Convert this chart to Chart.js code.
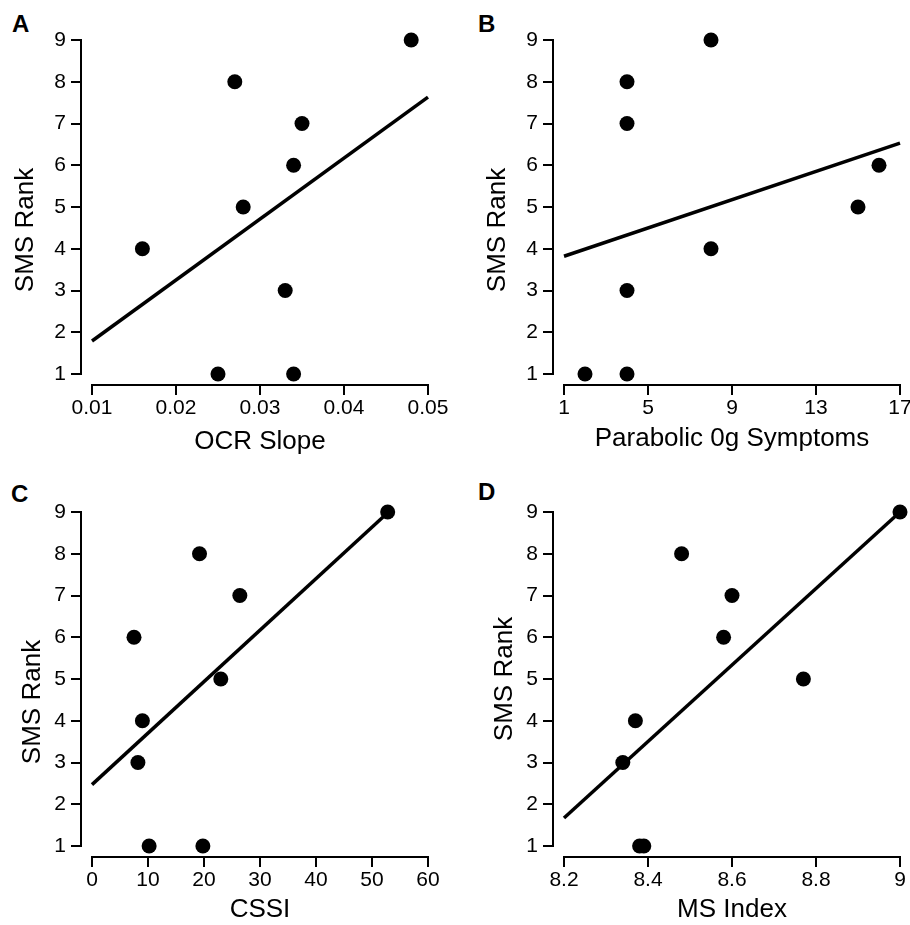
<!DOCTYPE html>
<html>
<head>
<meta charset="utf-8">
<script src="https://cdn.jsdelivr.net/npm/chart.js@4.4.1/dist/chart.umd.min.js"></script>
<style>
html, body { margin: 0; padding: 0; background: #fff; }
body { width: 910px; height: 925px; overflow: hidden; position: relative; font-family: "Liberation Sans", Arial, Helvetica, sans-serif; }
canvas { position: absolute; }
.lbl { position: absolute; font-weight: bold; font-size: 24px; line-height: 24px; color: #000; }
</style>
</head>
<body>
<div class="lbl" style="left:12px;top:12px">A</div>
<div class="lbl" style="left:478px;top:12px">B</div>
<div class="lbl" style="left:11px;top:482px">C</div>
<div class="lbl" style="left:478px;top:480px">D</div>
<canvas id="cA" width="472" height="460" style="left:0px;top:0px"></canvas>
<canvas id="cB" width="438" height="460" style="left:472px;top:0px"></canvas>
<canvas id="cC" width="472" height="453" style="left:0px;top:472px"></canvas>
<canvas id="cD" width="438" height="453" style="left:472px;top:472px"></canvas>
<script>
// ---------------- data ----------------
const smsRank = [9, 8, 7, 6, 5, 4, 3, 1, 1];

const ocrSlope    = [0.048, 0.027, 0.035, 0.034, 0.028, 0.016, 0.033, 0.025, 0.034];
const parabolic0g = [8, 4, 4, 16, 15, 8, 4, 2, 4];
const cssi        = [52.8, 19.2, 26.4, 7.5, 23.0, 9.0, 8.2, 10.2, 19.8];
const msIndex     = [9.0, 8.48, 8.60, 8.58, 8.77, 8.37, 8.34, 8.38, 8.39];

// regression lines (end points)
const fitOcrX = [0.01, 0.05],  fitOcrY = [1.79, 7.63];
const fitParX = [1, 17],       fitParY = [3.82, 6.53];
const fitCssiX = [0, 52.8],    fitCssiY = [2.47, 8.98];
const fitMsX = [8.2, 9.0],     fitMsY = [1.67, 9.0];

// tick values and labels
const yTicks = [1, 2, 3, 4, 5, 6, 7, 8, 9];
const yTickLabels = ['1', '2', '3', '4', '5', '6', '7', '8', '9'];
const ocrTicks = [0.01, 0.02, 0.03, 0.04, 0.05];
const ocrTickLabels = ['0.01', '0.02', '0.03', '0.04', '0.05'];
const parTicks = [1, 5, 9, 13, 17];
const parTickLabels = ['1', '5', '9', '13', '17'];
const cssiTicks = [0, 10, 20, 30, 40, 50, 60];
const cssiTickLabels = ['0', '10', '20', '30', '40', '50', '60'];
const msTicks = [8.2, 8.4, 8.6, 8.8, 9];
const msTickLabels = ['8.2', '8.4', '8.6', '8.8', '9'];

// ---------------- drawing ----------------
const FONT = '"Liberation Sans", Arial, Helvetica, sans-serif';
const PLOT_W = 336, PLOT_H = 334, GAP = 11;

const titleShift = {
  id: 'titleShift',
  afterLayout(chart, args, opts) {
    const s = chart.scales.y;
    if (opts && opts.shift) s.bottom += 2 * opts.shift;
  }
};

function setTicks(arr) { return s => { s.ticks = arr.map(v => ({ value: v })); }; }
function labeller(arr, labels) {
  return v => { const i = arr.findIndex(t => Math.abs(t - v) < 1e-9); return i < 0 ? '' : labels[i]; };
}

function panel(id, xs, fitX, fitY, xTicks, xLabels, xTitle, opt) {
  const xMin = xTicks[0], xMax = xTicks[xTicks.length - 1];
  const yMin = yTicks[0], yMax = yTicks[yTicks.length - 1];
  const yAxisAtX = xMin - GAP / PLOT_W * (xMax - xMin);
  const xAxisAtY = yMin - GAP / PLOT_H * (yMax - yMin);
  new Chart(document.getElementById(id), {
    type: 'scatter',
    data: {
      datasets: [
        { data: xs.map((x, i) => ({ x: x, y: smsRank[i] })), pointRadius: 7.5, pointBackgroundColor: '#000',
          pointBorderWidth: 0, borderColor: '#000', clip: false, order: 1 },
        { data: fitX.map((x, i) => ({ x: x, y: fitY[i] })), showLine: true, borderColor: '#000', borderWidth: 3.5,
          pointRadius: 0, clip: false, order: 2 }
      ]
    },
    options: {
      responsive: false, animation: false, events: [],
      layout: { padding: { top: 40, right: opt.padRight, bottom: 0, left: 0 } },
      plugins: { legend: { display: false }, tooltip: { enabled: false }, titleShift: { shift: opt.yTitleShift } },
      scales: {
        x: {
          type: 'linear', position: 'bottom', min: xMin, max: xMax,
          afterBuildTicks: setTicks(xTicks),
          afterFit: s => { s.height = opt.xAxisH; s.paddingLeft = 0; s.paddingRight = 0; },
          grid: { display: false, drawTicks: false }, border: { display: false },
          ticks: { callback: labeller(xTicks, xLabels), color: '#000', font: { family: FONT, size: 21 },
                   padding: 22, maxRotation: 0, autoSkip: false },
          title: { display: true, text: xTitle, color: '#000', font: { family: FONT, size: 26 },
                   padding: { top: 0, bottom: opt.xTitlePad } }
        },
        y: {
          type: 'linear', position: 'left', min: yMin, max: yMax,
          afterBuildTicks: setTicks(yTicks),
          afterFit: s => { s.width = 92; s.paddingTop = 0; s.paddingBottom = 0; },
          grid: { display: false, drawTicks: false }, border: { display: false },
          ticks: { callback: labeller(yTicks, yTickLabels), color: '#000', font: { family: FONT, size: 21 },
                   padding: 26, autoSkip: false },
          title: { display: true, text: 'SMS Rank', color: '#000', font: { family: FONT, size: 26 },
                   padding: { top: opt.yTitlePad, bottom: 0 } }
        },
        xb: {
          axis: 'x', type: 'linear', position: { y: xAxisAtY }, min: xMin, max: xMax,
          afterBuildTicks: setTicks(xTicks),
          grid: { drawOnChartArea: false, drawTicks: true, tickLength: 9, color: '#000', lineWidth: 2 },
          border: { display: true, color: '#000', width: 2 },
          ticks: { display: false }
        },
        yb: {
          axis: 'y', type: 'linear', position: { x: yAxisAtX }, min: yMin, max: yMax,
          afterBuildTicks: setTicks(yTicks),
          grid: { drawOnChartArea: false, drawTicks: true, tickLength: 9, color: '#000', lineWidth: 2 },
          border: { display: true, color: '#000', width: 2 },
          ticks: { display: false }
        }
      }
    },
    plugins: [titleShift]
  });
}

panel('cA', ocrSlope, fitOcrX, fitOcrY, ocrTicks, ocrTickLabels, 'OCR Slope',
      { padRight: 44, xAxisH: 86, xTitlePad: 3, yTitlePad: 10, yTitleShift: 23 });
panel('cB', parabolic0g, fitParX, fitParY, parTicks, parTickLabels, 'Parabolic 0g Symptoms',
      { padRight: 10, xAxisH: 86, xTitlePad: 6, yTitlePad: 10, yTitleShift: 23 });
panel('cC', cssi, fitCssiX, fitCssiY, cssiTicks, cssiTickLabels, 'CSSI',
      { padRight: 44, xAxisH: 79, xTitlePad: 0, yTitlePad: 17, yTitleShift: 23 });
panel('cD', msIndex, fitMsX, fitMsY, msTicks, msTickLabels, 'MS Index',
      { padRight: 10, xAxisH: 79, xTitlePad: 0, yTitlePad: 17, yTitleShift: 0 });
</script>
</body>
</html>
